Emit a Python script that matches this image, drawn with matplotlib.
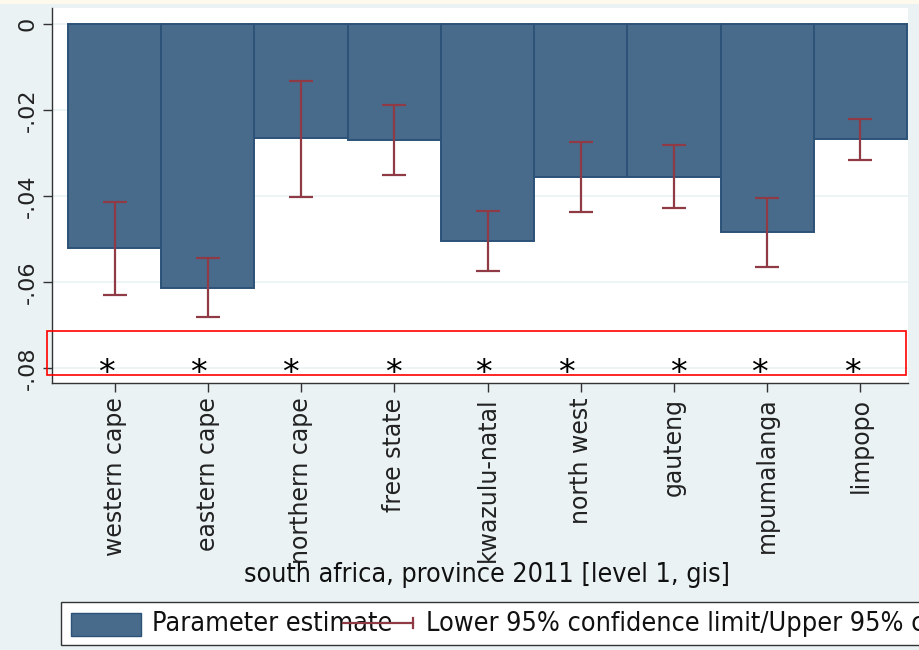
import matplotlib
matplotlib.use('Agg')
import matplotlib.pyplot as plt
from matplotlib.patches import Rectangle
from matplotlib.lines import Line2D
import numpy as np

provinces = ["western cape", "eastern cape", "northern cape", "free state",
             "kwazulu-natal", "north west", "gauteng", "mpumalanga", "limpopo"]
estimate = [-0.0522, -0.0613, -0.0266, -0.0270, -0.0504, -0.0355, -0.0355, -0.0485, -0.0267]
ci_lower = [-0.0631, -0.0682, -0.0402, -0.0351, -0.0574, -0.0438, -0.0429, -0.0566, -0.0316]
ci_upper = [-0.0415, -0.0545, -0.0132, -0.0189, -0.0435, -0.0274, -0.0282, -0.0405, -0.0221]
star_labels = ["*"] * 9
star_shift = [-0.09, -0.10, -0.12, -0.01, -0.04, -0.16, 0.05, -0.08, -0.09]
star_level = -0.0814
yticks = [0, -0.02, -0.04, -0.06, -0.08]
ytick_labels = ["0", "-.02", "-.04", "-.06", "-.08"]
xlabel = "south africa, province 2011 [level 1, gis]"
legend_labels = ["Parameter estimate",
                 "Lower 95% confidence limit/Upper 95% confidence limit"]

BAR = '#486b8c'
BAR_EDGE = '#2c5278'
ERR = '#8f3a44'
BG = '#eaf2f3'

W, H = 919, 650
fig = plt.figure(figsize=(W / 100, H / 100), dpi=100, facecolor=BG)


def fx(px):
    return px / W


def fy(py):
    return 1 - py / H


# cream strip at top (cropped title area)
fig.patches.append(Rectangle((0, fy(4)), 1, 4 / H, transform=fig.transFigure,
                             facecolor='#fdf9ec', edgecolor='none', zorder=0))

ax = fig.add_axes([fx(52), fy(383), fx(908) - fx(52), fy(8) - fy(383)])
ax.set_facecolor('white')
x = np.arange(len(provinces))
ax.bar(x, estimate, width=1.0, color=BAR, edgecolor=BAR_EDGE, linewidth=1.4, zorder=2)
lo = np.array(ci_lower)
hi = np.array(ci_upper)
mid = (lo + hi) / 2
half = (hi - lo) / 2
ax.errorbar(x, mid, yerr=half, fmt='none', ecolor=ERR, elinewidth=1.6,
            capsize=8.5, capthick=1.6, zorder=3)

for xi, sh, lab in zip(x, star_shift, star_labels):
    ax.text(xi + sh, star_level, lab, ha='center', va='center', fontsize=24,
            family='DejaVu Sans', color='black', zorder=4)

ax.set_xlim(-0.672, 8.51)
ax.set_ylim(-0.0835, 0.0037)
ax.set_yticks(yticks)
ax.set_yticklabels(ytick_labels, rotation=90, va='center', fontsize=16, color='#222222')
ax.set_xticks(x)
ax.set_xticklabels(provinces, rotation=90, fontsize=17, color='#222222')
ax.tick_params(axis='both', length=6.5, width=1, color='#333333')
ax.tick_params(axis='y', pad=4)
ax.tick_params(axis='x', pad=4)
ax.yaxis.grid(True, color=BG, linewidth=1.2)
ax.set_axisbelow(True)
for s in ['top', 'right']:
    ax.spines[s].set_visible(False)
for s in ['left', 'bottom']:
    ax.spines[s].set_color('#333333')
    ax.spines[s].set_linewidth(1)

# red highlight rectangle
fig.patches.append(Rectangle((fx(47), fy(375)), fx(906) - fx(47), (375 - 331) / H,
                             transform=fig.transFigure, fill=False,
                             edgecolor='red', linewidth=1.2, zorder=5))

# x-axis title
fig.text(fx(487), fy(575), xlabel, ha='center', va='center', fontsize=19.3,
         family='DejaVu Sans', fontstretch='condensed', color='#111111')

# legend (drawn manually, Stata style; runs past the right edge as in the source)
fig.patches.append(Rectangle((fx(61), fy(645)), 1.0, (645 - 602) / H,
                             transform=fig.transFigure, facecolor='white',
                             edgecolor='#333333', linewidth=1, zorder=1))
fig.patches.append(Rectangle((fx(71), fy(636)), fx(141) - fx(71), (636 - 613) / H,
                             transform=fig.transFigure, facecolor=BAR,
                             edgecolor=BAR_EDGE, linewidth=1, zorder=2))
fig.text(fx(152), fy(624), legend_labels[0], ha='left', va='center', fontsize=19.4,
         family='DejaVu Sans', fontstretch='condensed', color='#111111', zorder=3)
fig.text(fx(426), fy(624), legend_labels[1], ha='left', va='center', fontsize=19.4,
         family='DejaVu Sans', fontstretch='condensed', color='#111111', zorder=3)
fig.lines.append(Line2D([fx(343), fx(413)], [fy(623), fy(623)], transform=fig.transFigure,
                        color=ERR, linewidth=1.6, zorder=4))
fig.lines.append(Line2D([fx(413), fx(413)], [fy(618), fy(628)], transform=fig.transFigure,
                        color=ERR, linewidth=1.6, zorder=4))

fig.savefig('out.png', dpi=100, facecolor=BG)
